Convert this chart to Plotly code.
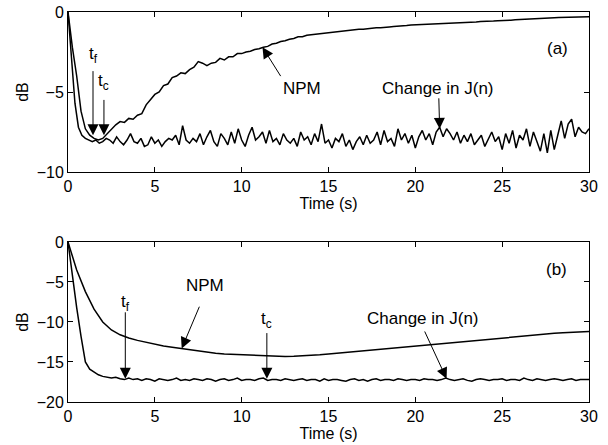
import plotly.graph_objects as go

# ---- data ----
# (a) sampled every 0.2 s / 0.25 s from t = 0
dt_j_a = 0.2
j_a = [0, -3.0, -5.7, -7.2, -7.7, -7.9, -8.0, -8.1, -8.0, -8.2,
       -8.1, -7.9, -8.0, -8.2, -7.8, -8.1, -8.3, -8.0, -7.6, -8.1,
       -8.2, -7.9, -8.4, -8.3, -7.8, -8.2, -8.0, -8.4, -8.1, -7.9,
       -8.0, -7.7, -8.3, -7.1, -8.0, -8.2, -7.9, -8.1, -7.6, -8.3,
       -7.8, -7.4, -8.1, -8.4, -7.6, -7.9, -8.3, -7.5, -8.2, -7.3,
       -8.0, -8.4, -7.7, -7.2, -8.0, -7.8, -7.5, -8.2, -7.4, -8.1,
       -7.9, -8.3, -7.6, -8.0, -8.2, -7.9, -8.4, -7.5, -8.0, -7.8,
       -8.3, -7.6, -8.1, -7.0, -8.2, -8.0, -8.5, -7.9, -8.1, -7.6,
       -8.4, -8.0, -8.6, -8.1, -7.8, -8.3, -7.7, -8.2, -8.0, -7.5,
       -8.3, -7.4, -8.1, -7.9, -8.4, -7.3, -8.0, -7.6, -8.2, -7.7,
       -8.5, -7.8, -7.4, -8.0, -7.6, -8.3, -7.5, -7.2, -7.8, -7.3,
       -7.6, -8.0, -7.5, -8.2, -7.7, -8.1, -7.6, -8.3, -8.0, -7.7,
       -8.4, -7.9, -7.5, -8.1, -7.8, -8.6, -7.6, -8.2, -7.4, -8.5,
       -7.7, -8.0, -7.3, -8.4, -7.5, -8.1, -8.7, -7.6, -8.8, -7.4,
       -8.6, -7.7, -6.8, -7.9, -7.0, -6.7, -7.8, -7.2, -7.5, -7.6,
       -7.3]

dt_npm_a = 0.25
npm_a = [0, -2.2, -4.0, -6.2, -7.3, -7.7, -7.9, -8.0,
         -7.9, -7.6, -7.3, -7.05, -6.85, -6.9, -6.65, -6.7,
         -6.45, -6.35, -5.8, -5.5, -5.15, -5.0, -4.6, -4.5,
         -4.1, -4.0, -3.8, -3.85, -3.6, -3.45, -3.1, -3.2,
         -3.35, -3.2, -3.15, -2.9, -3.0, -2.8, -2.8, -2.6,
         -2.6, -2.5, -2.45, -2.35, -2.3, -2.2, -2.15, -2.0,
         -1.95, -1.85, -1.8, -1.7, -1.65, -1.55, -1.55, -1.45,
         -1.42, -1.38, -1.33, -1.32, -1.28, -1.24, -1.24, -1.18,
         -1.18, -1.14, -1.13, -1.08, -1.08, -1.04, -1.03, -0.98,
         -0.99, -0.94, -0.93, -0.9, -0.89, -0.85, -0.85, -0.81,
         -0.8, -0.78, -0.78, -0.75, -0.75, -0.73, -0.72, -0.71,
         -0.7, -0.68, -0.68, -0.65, -0.65, -0.63, -0.63, -0.6,
         -0.6, -0.57, -0.57, -0.55, -0.55, -0.52, -0.51, -0.49,
         -0.48, -0.45, -0.45, -0.42, -0.42, -0.39, -0.39, -0.37,
         -0.36, -0.34, -0.33, -0.32, -0.31, -0.3, -0.3, -0.29,
         -0.3]

# (b)
dt_j_b = 0.25
j_b = [0, -4.3, -8.2, -11.8, -15.0, -15.9, -16.3, -16.6,
       -16.8, -16.9, -17.0, -16.9, -17.1, -17.2, -17.0, -17.2,
       -17.1, -17.3, -17.1, -17.2, -17.4, -17.1, -17.2, -17.3,
       -17.2, -17.0, -17.3, -17.2, -17.3, -17.1, -17.2, -17.3,
       -17.1, -17.2, -17.4, -17.2, -17.1, -17.3, -17.2, -17.0,
       -17.3, -17.2, -17.2, -17.3, -17.1, -17.0, -17.3, -17.2,
       -17.2, -17.3, -17.1, -17.2, -17.3, -17.2, -17.1, -17.3,
       -17.2, -17.2, -17.4, -17.1, -17.3, -17.2, -17.2, -17.3,
       -17.4, -17.2, -17.1, -17.3, -17.2, -17.4, -17.2, -17.1,
       -17.3, -17.2, -17.2, -17.3, -17.1, -17.2, -17.3, -17.2,
       -17.2, -17.3, -17.1, -17.2, -17.2, -17.3, -17.2, -17.0,
       -17.2, -17.3, -17.2, -17.1, -17.3, -17.4, -17.2, -17.1,
       -17.2, -17.3, -17.2, -17.2, -17.1, -17.3, -17.2, -17.2,
       -17.3, -17.0, -17.2, -17.3, -17.1, -17.2, -17.3, -17.2,
       -17.1, -17.2, -17.3, -17.2, -17.1, -17.3, -17.2, -17.2,
       -17.2]

dt_npm_b = 0.5
npm_b = [0, -3.5, -6.2, -8.4, -10.0, -11.0, -11.6, -12.0, -12.3, -12.55,
         -12.8, -13.0, -13.15, -13.3, -13.5, -13.65, -13.8, -13.9, -14.0, -14.05,
         -14.1, -14.15, -14.22, -14.27, -14.3, -14.3, -14.28, -14.24, -14.18, -14.1,
         -14.0, -13.9, -13.8, -13.7, -13.6, -13.5, -13.4, -13.3, -13.15, -13.05,
         -12.95, -12.85, -12.75, -12.65, -12.55, -12.45, -12.38, -12.3, -12.2, -12.1,
         -12.0, -11.9, -11.8, -11.7, -11.58, -11.48, -11.42, -11.36, -11.3, -11.25,
         -11.2]

x_ticks = [0, 5, 10, 15, 20, 25, 30]
y_ticks_a = [-10, -5, 0]
y_ticks_b = [-20, -15, -10, -5, 0]

FONT = "Liberation Sans, Arial, sans-serif"
line = dict(color="black", width=1.5)

fig = go.Figure()
fig.add_trace(go.Scatter(y=j_a, x0=0, dx=dt_j_a, mode="lines", line=line, xaxis="x", yaxis="y"))
fig.add_trace(go.Scatter(y=npm_a, x0=0, dx=dt_npm_a, mode="lines", line=line, xaxis="x", yaxis="y"))
fig.add_trace(go.Scatter(y=j_b, x0=0, dx=dt_j_b, mode="lines", line=line, xaxis="x2", yaxis="y2"))
fig.add_trace(go.Scatter(y=npm_b, x0=0, dx=dt_npm_b, mode="lines", line=line, xaxis="x2", yaxis="y2"))

ax_common = dict(showline=True, linecolor="black", linewidth=1, mirror="ticks",
                 ticks="inside", ticklen=5, tickcolor="black", showgrid=False,
                 zeroline=False, automargin=False, tickfont=dict(size=16, color="black"))

fig.update_layout(
    width=608, height=445,
    margin=dict(l=68, r=19, t=12, b=43),
    paper_bgcolor="white", plot_bgcolor="white",
    font=dict(family=FONT, size=16, color="black"),
    showlegend=False,
    xaxis=dict(ax_common, range=[0, 30], tickvals=x_ticks, anchor="y",
               title=dict(text="Time (s)", standoff=0, font=dict(size=16))),
    yaxis=dict(ax_common, range=[-10, 0], tickvals=y_ticks_a, domain=[0.5897, 1], anchor="x",
               title=dict(text="dB", standoff=4, font=dict(size=16))),
    xaxis2=dict(ax_common, range=[0, 30], tickvals=x_ticks, anchor="y2",
                title=dict(text="Time (s)", standoff=0, font=dict(size=16))),
    yaxis2=dict(ax_common, range=[-20, 0], tickvals=y_ticks_b, domain=[0, 0.4103], anchor="x2",
                title=dict(text="dB", standoff=4, font=dict(size=16))),
)


def arrow(xr, yr, x, y, ax, ay):
    fig.add_annotation(xref=xr, yref=yr, axref=xr, ayref=yr, x=x, y=y, ax=ax, ay=ay,
                       text="", showarrow=True, arrowhead=2, arrowsize=2.2,
                       arrowwidth=1, arrowcolor="black", standoff=0)


def label(xr, yr, x, y, txt):
    fig.add_annotation(xref=xr, yref=yr, x=x, y=y, text=txt, showarrow=False,
                       font=dict(family=FONT, size=17, color="black"))


# (a)
label("x", "y", 1.45, -2.7, "t<sub>f</sub>")
arrow("x", "y", 1.44, -7.7, 1.44, -3.6)
label("x", "y", 2.05, -4.4, "t<sub>c</sub>")
arrow("x", "y", 2.07, -7.7, 2.07, -5.4)
label("x", "y", 13.5, -4.75, "NPM")
arrow("x", "y", 11.2, -2.2, 12.3, -4.1)
label("x", "y", 21.3, -4.75, "Change in J(n)")
arrow("x", "y", 21.4, -7.3, 21.35, -5.3)
label("x", "y", 28.2, -2.25, "(a)")

# (b)
label("x2", "y2", 3.3, -7.6, "t<sub>f</sub>")
arrow("x2", "y2", 3.3, -17.1, 3.3, -8.6)
label("x2", "y2", 7.9, -5.4, "NPM")
arrow("x2", "y2", 6.55, -13.3, 7.6, -7.9)
label("x2", "y2", 11.45, -9.75, "t<sub>c</sub>")
arrow("x2", "y2", 11.45, -17.1, 11.45, -11.2)
label("x2", "y2", 20.45, -9.6, "Change in J(n)")
arrow("x2", "y2", 21.8, -17.1, 20.5, -11.0)
label("x2", "y2", 28.1, -3.4, "(b)")

# drop the default 8px page margin so the figure sits at the window's corner
fig.write_html("out.html", config={"displayModeBar": False},
               post_script="document.body.style.margin='0px';")
